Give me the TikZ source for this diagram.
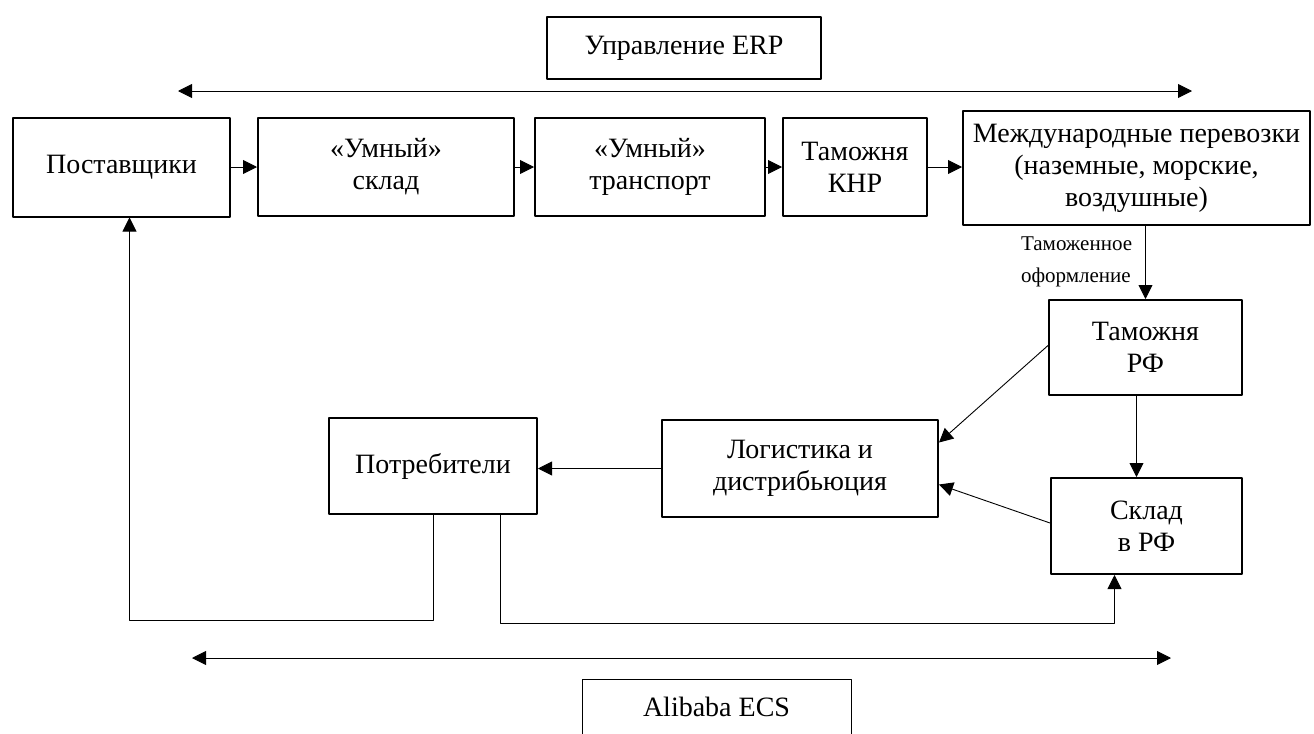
\documentclass[tikz,border=0pt]{standalone}
\usepackage{fontspec}
\setmainfont{Liberation Serif}
\usetikzlibrary{arrows.meta}

\begin{document}
\begin{tikzpicture}[x=.5pt, y=-.5pt, font=\fontsize{14}{16}\selectfont, line join=round, >={Triangle[length=7pt,width=7pt]},
box/.style={draw, line width=1pt, align=center, inner sep=0pt},
link/.style={->, line width=.45pt}]
\clip (0,0) rectangle (1314,734);
\node[box, minimum width=137pt, minimum height=31pt] (erp) at (684,48) {Управление ERP};
\node[box, minimum width=108.5pt, minimum height=49.5pt] (post) at (121.5,167) {Поставщики};
\node[box, minimum width=128pt, minimum height=49pt] (sklad) at (386,167) {«Умный»\\склад};
\node[box, minimum width=115pt, minimum height=49pt] (trans) at (650,167) {«Умный»\\транспорт};
\node[box, minimum width=72pt, minimum height=49pt] (knr) at (855,167) {Таможня\\КНР};
\node[box, minimum width=173.5pt, minimum height=57pt] (intl) at (1136.5,168) {Международные перевозки\\(наземные, морские,\\воздушные)};
\node[align=left, anchor=west, font=\fontsize{10.5}{16}\selectfont] (decl) at (1014,262) {Таможенное\\оформление};
\node[box, minimum width=96.5pt, minimum height=47.5pt] (rfc) at (1145.5,347.5) {Таможня\\РФ};
\node[box, minimum width=95.5pt, minimum height=48pt] (whrf) at (1146.5,526) {Склад\\в РФ};
\node[box, minimum width=138pt, minimum height=48.5pt] (logi) at (800,468.5) {Логистика и\\дистрибьюция};
\node[box, minimum width=104pt, minimum height=48pt] (cons) at (433,466) {Потребители};
\node[box, line width=.5pt, minimum width=134.5pt, minimum height=28pt] (ecs) at (716.5,707) {Alibaba ECS};

\coordinate (erpL) at (178,91);
\coordinate (erpR) at (1192,91);
\coordinate (ecsL) at (192,658);
\coordinate (ecsR) at (1171,658);
\draw[link, <->] (erpL) -- (erpR);
\draw[link, <->] (ecsL) -- (ecsR);

\foreach \a/\b in {post/sklad, sklad/trans, trans/knr, knr/intl}
\draw[link] (\a.east) -- (\a.east -| \b.west);
\draw[link] (rfc.north |- intl.south) -- (rfc.north);
\draw[link] ([xshift=-4.5pt]rfc.south) -- ([xshift=-4.5pt]rfc.south |- whrf.north);
\draw[link] ([yshift=1pt]rfc.west) -- ([yshift=13pt]logi.east);
\draw[link] ([yshift=1.5pt]whrf.west) -- ([yshift=-8pt]logi.east);
\draw[link] (logi.west) -- (logi.west -| cons.east);
\draw[link] (cons.south) -- ++(0,105) -| ([xshift=4pt]post.south);
\draw[link] ([xshift=33.5pt]cons.south) -- ++(0,108) -| ([xshift=-16pt]whrf.south);
\end{tikzpicture}
\end{document}
